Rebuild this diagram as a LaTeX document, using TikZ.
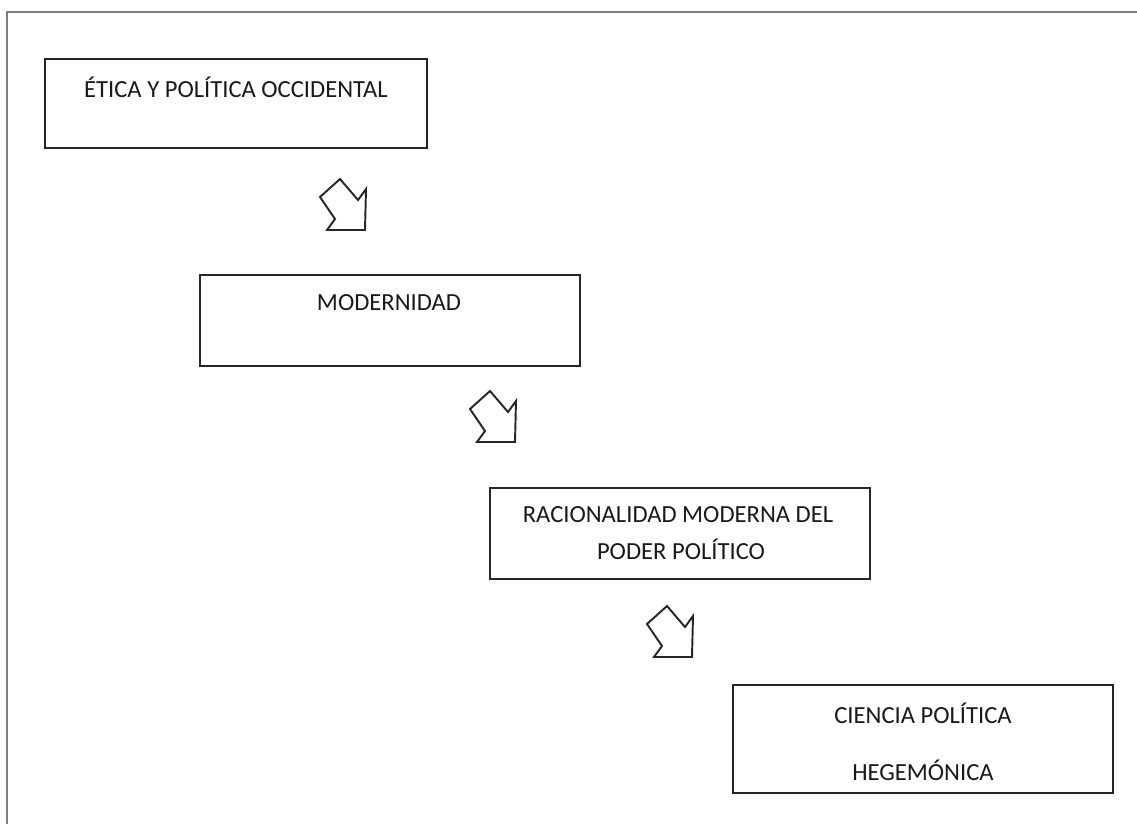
\documentclass[tikz,border=0pt]{standalone}
\usepackage{fontspec}
\setmainfont{Carlito}
\usetikzlibrary{calc}

\tikzset{
  caja/.style={draw=black!85, line width=1.1pt, minimum width=380*0.02cm, inner sep=0pt},
  texto/.style={font=\fontsize{14}{16}\selectfont, text=black!90, inner sep=0pt},
  flecha/.pic={
    \draw[line width=1.1pt, draw=black!85, line join=miter]
      (-25,-51) -- (-7,-30) -- (1,-41) -- (0,0) -- (-38,0) -- (-30,-11) -- (-45,-33) -- cycle;
  }
}

\begin{document}
\begin{tikzpicture}[x=0.02cm, y=-0.02cm]
        \useasboundingbox (0,0) rectangle (1137,823);
        \clip (0,0) rectangle (1137,823);
        % Marco
        \draw[black!50, line width=1.4pt] (7,12) rectangle (1150,840);

        % Cajas
        \node[caja, minimum width=382*0.02cm, minimum height=89*0.02cm] (etica) at (236,103.5) {};
        \node[caja, minimum height=91*0.02cm] (modernidad) at (390,320.5) {};
        \node[caja, minimum height=91*0.02cm] (racionalidad) at (680,533.5) {};
        \node[caja, minimum height=108*0.02cm] (ciencia) at (923,739) {};

        % Textos
        \node[texto] (t-etica) at (236,87) {ÉTICA Y POLÍTICA OCCIDENTAL};
        \node[texto] (t-modernidad) at (389,303) {MODERNIDAD};
        \node[texto] (t-racional-a) at (678,515) {RACIONALIDAD MODERNA DEL};
        \node[texto] (t-racional-b) at (681,549) {PODER POLÍTICO};
        \node[texto] (t-ciencia-a) at (923,713) {CIENCIA POLÍTICA};
        \node[texto] (t-ciencia-b) at (923,770) {HEGEMÓNICA};

        % Flechas
        \pic at (365,230) {flecha};
        \pic at (515,442) {flecha};
        \pic at (692,657) {flecha};
    \end{tikzpicture}
\end{document}
